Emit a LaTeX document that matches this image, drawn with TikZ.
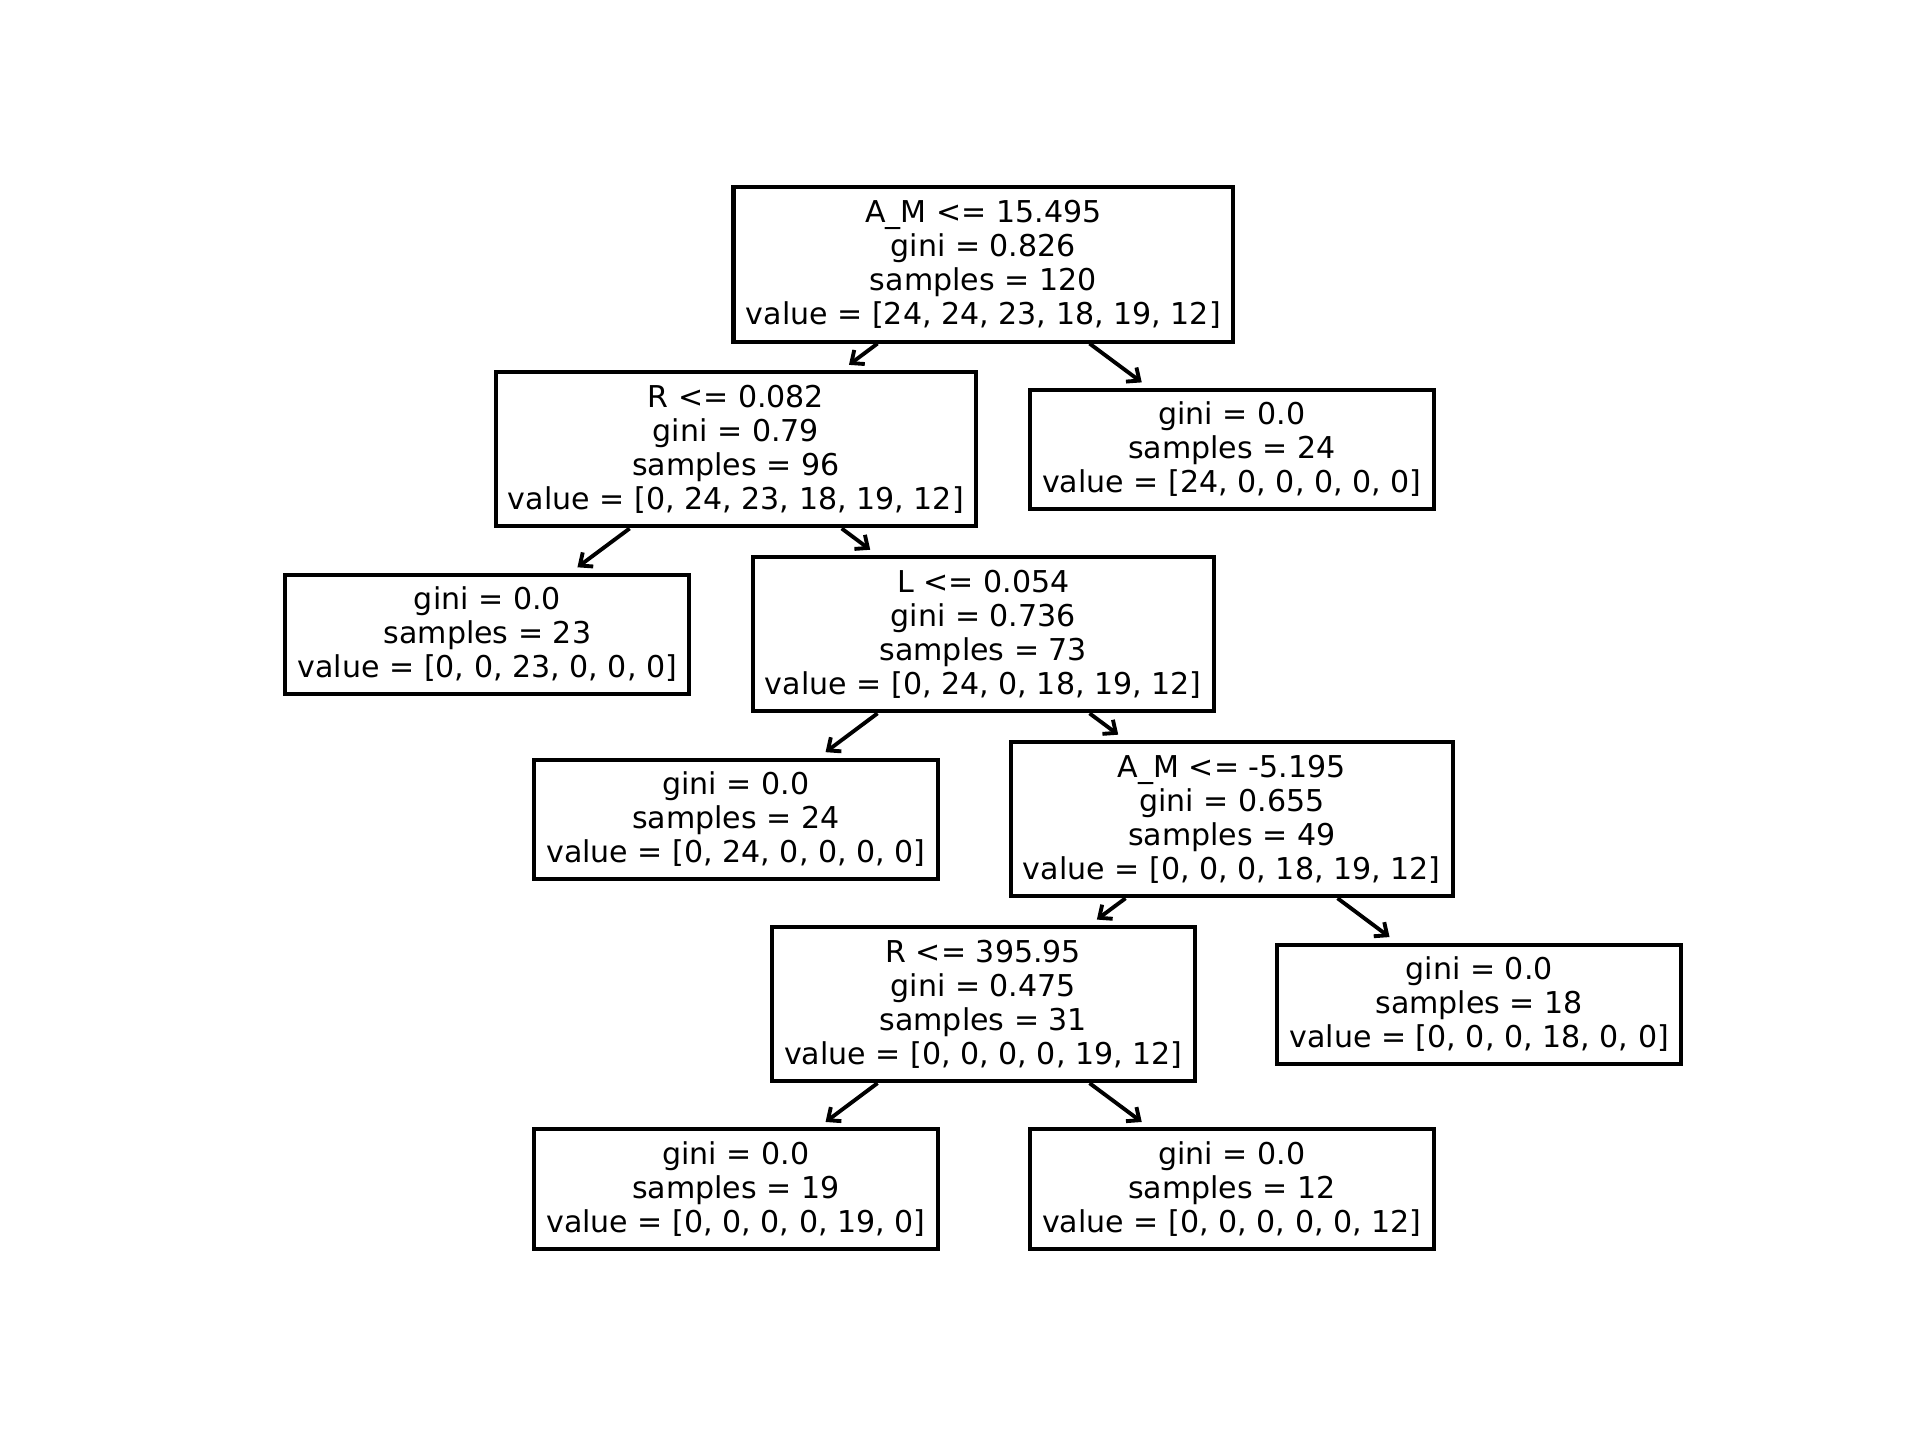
\documentclass[tikz,border=0pt]{standalone}
\usepackage{fontspec}
\setmainfont{DejaVu Sans}
\usetikzlibrary{arrows.meta}
\begin{document}
\begin{tikzpicture}[x=0.01cm,y=-0.01cm,
  tbox/.style={draw=black, line width=1.15pt, fill=white, align=center,
    font=\fontsize{8.55pt}{9.65pt}\selectfont, inner xsep=3.5pt, inner ysep=0pt},
  split/.style={tbox, minimum height=1.54cm},
  leaf/.style={tbox, minimum height=1.19cm},
  arr/.style={draw=black, line width=1.1pt, shorten >=2.6pt,
    -{Straight Barb[length=2.9pt,width=5pt]}}]
\fill[white] (0,0) rectangle (1920,1440);
\path[use as bounding box] (0,0) rectangle (1920,1440);

\node[split] (root) at (983.3,264.5) {A\_M <= 15.495\\gini = 0.826\\samples = 120\\value = [24, 24, 23, 18, 19, 12]};
\node[split] (n1) at (735.9,449.4) {R <= 0.082\\gini = 0.79\\samples = 96\\value = [0, 24, 23, 18, 19, 12]};
\node[leaf] (n2) at (1231.8,449.4) {gini = 0.0\\samples = 24\\value = [24, 0, 0, 0, 0, 0]};
\node[leaf] (n3) at (487.4,634.3) {gini = 0.0\\samples = 23\\value = [0, 0, 23, 0, 0, 0]};
\node[split] (n4) at (983.3,634.3) {L <= 0.054\\gini = 0.736\\samples = 73\\value = [0, 24, 0, 18, 19, 12]};
\node[leaf] (n5) at (735.9,819.2) {gini = 0.0\\samples = 24\\value = [0, 24, 0, 0, 0, 0]};
\node[split] (n6) at (1231.8,819.2) {A\_M <= -5.195\\gini = 0.655\\samples = 49\\value = [0, 0, 0, 18, 19, 12]};
\node[split] (n7) at (983.3,1004.1) {R <= 395.95\\gini = 0.475\\samples = 31\\value = [0, 0, 0, 0, 19, 12]};
\node[leaf] (n8) at (1479.2,1004.1) {gini = 0.0\\samples = 18\\value = [0, 0, 0, 18, 0, 0]};
\node[leaf] (n9) at (735.9,1189) {gini = 0.0\\samples = 19\\value = [0, 0, 0, 0, 19, 0]};
\node[leaf] (n10) at (1231.8,1189) {gini = 0.0\\samples = 12\\value = [0, 0, 0, 0, 0, 12]};

\draw[arr] (root) -- (n1);
\draw[arr] (root) -- (n2);
\draw[arr] (n1) -- (n3);
\draw[arr] (n1) -- (n4);
\draw[arr] (n4) -- (n5);
\draw[arr] (n4) -- (n6);
\draw[arr] (n6) -- (n7);
\draw[arr] (n6) -- (n8);
\draw[arr] (n7) -- (n9);
\draw[arr] (n7) -- (n10);
\end{tikzpicture}
\end{document}
